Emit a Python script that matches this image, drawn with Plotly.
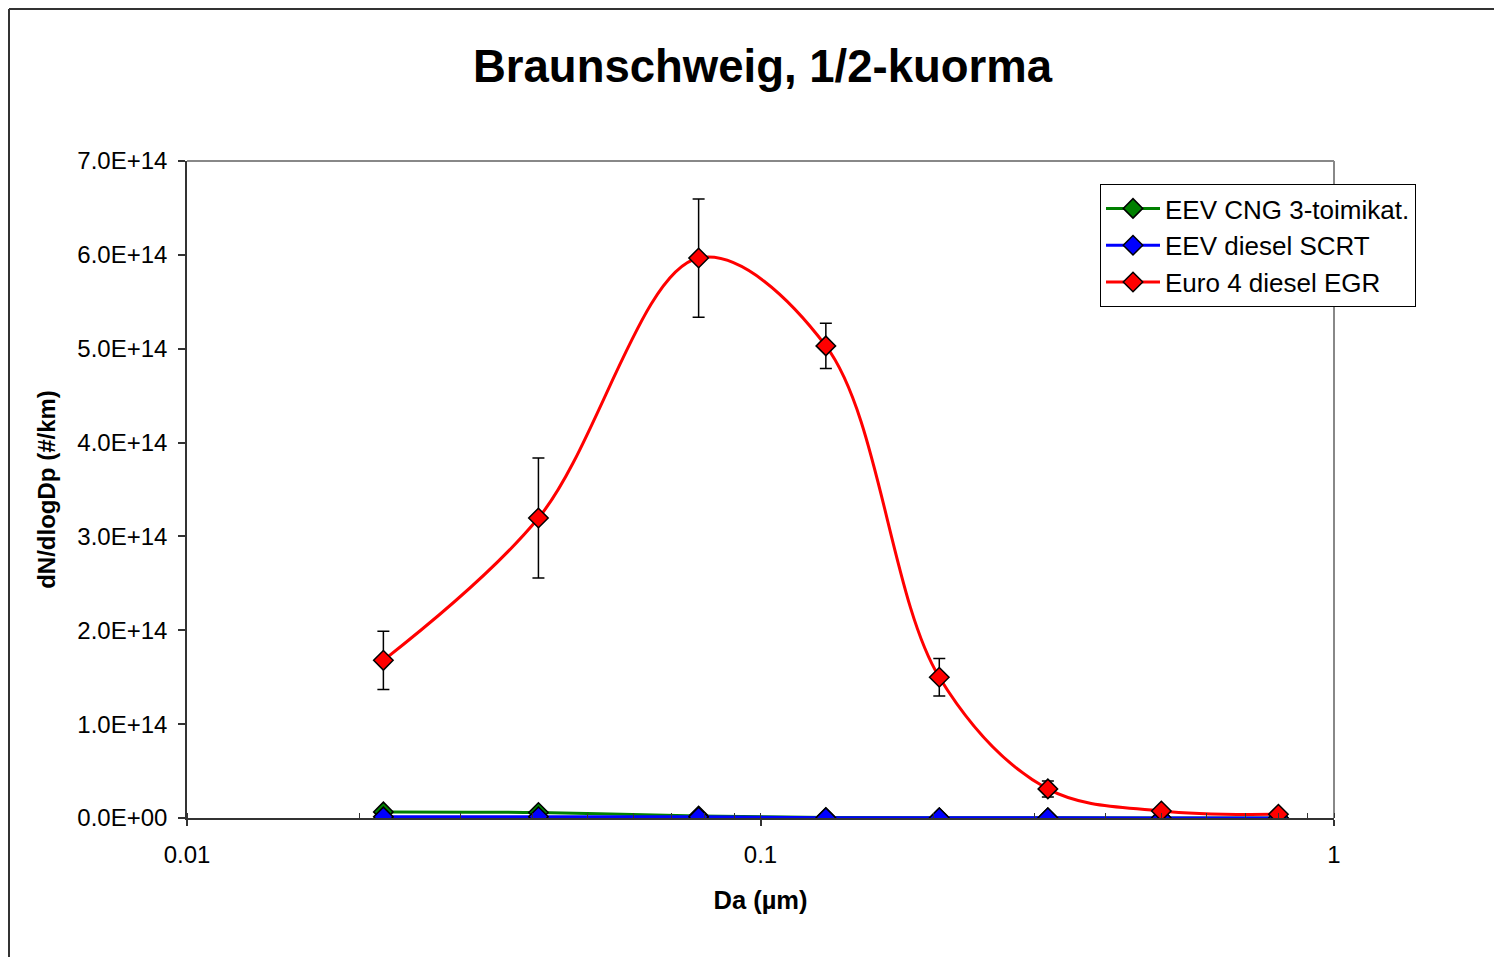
import plotly.graph_objects as go

da = [0.022, 0.041, 0.078, 0.13, 0.205, 0.317, 0.50, 0.80]
cng = [0.065e14, 0.058e14, 0.02e14, 0.005e14, 0.003e14, 0.002e14, 0.001e14, 0.001e14]
scrt = [0.012e14, 0.014e14, 0.012e14, 0.003e14, 0.002e14, 0.002e14, 0.001e14, 0.001e14]
egr = [1.68e14, 3.196e14, 5.966e14, 5.03e14, 1.50e14, 0.31e14, 0.075e14, 0.04e14]
egr_err = [0.31e14, 0.64e14, 0.63e14, 0.24e14, 0.20e14, 0.085e14, 0, 0]

yticks = [0, 1e14, 2e14, 3e14, 4e14, 5e14, 6e14, 7e14]
ytext = ["0.0E+00", "1.0E+14", "2.0E+14", "3.0E+14", "4.0E+14", "5.0E+14", "6.0E+14", "7.0E+14"]
xticks = [0.01, 0.1, 1]
xtext = ["0.01", "0.1", "1"]

FONT = "Liberation Sans, Arial, sans-serif"

W, H = 1502, 957
L, R, T, B = 179, 176, 153, 147
PW = W - L - R
PH = H - T - B

def marker(color):
    return dict(symbol="diamond", size=15, color=color, line=dict(color="black", width=1.5))

fig = go.Figure()
fig.add_trace(go.Scatter(x=da, y=cng, mode="lines+markers", name="EEV CNG 3-toimikat.",
                         line=dict(color="#008000", width=3, shape="spline"), marker=marker("#008000")))
fig.add_trace(go.Scatter(x=da, y=scrt, mode="lines+markers", name="EEV diesel SCRT",
                         line=dict(color="#0000FF", width=3, shape="spline"), marker=marker("#0000FF")))
fig.add_trace(go.Scatter(x=da, y=egr, mode="lines+markers", name="Euro 4 diesel EGR",
                         line=dict(color="#FF0000", width=3, shape="spline"), marker=marker("#FF0000"),
                         error_y=dict(type="data", array=egr_err, visible=True, color="black",
                                      thickness=1.5, width=6)))

fig.update_layout(
    width=W, height=H,
    margin=dict(l=L, r=R, t=T, b=B, autoexpand=False),
    paper_bgcolor="white", plot_bgcolor="white",
    font=dict(family=FONT, color="black"),
    title=dict(text="<b>Braunschweig, 1/2-kuorma</b>", x=(L + PW / 2 + 2) / W, xanchor="center",
               y=1 - 58 / H, yanchor="middle", font=dict(size=45.5, family=FONT)),
    showlegend=True,
    legend=dict(x=(1092 - L) / PW, y=(H - B - 176) / PH, xanchor="left", yanchor="top",
                bgcolor="white", bordercolor="black", borderwidth=1, itemwidth=54,
                font=dict(size=26, family=FONT), tracegroupgap=0),
)

fig.update_xaxes(type="log", range=[-2, 0], tickvals=xticks, ticktext=xtext,
                 showgrid=False, zeroline=False, showline=True, linecolor="#333", linewidth=1.5,
                 ticks="outside", ticklen=6, tickcolor="#333", tickwidth=1.5,
                 tickfont=dict(size=24, family=FONT), ticklabelstandoff=8,
                 minor=dict(ticks="inside", ticklen=5, tickcolor="#333", tickwidth=1, dtick="D1", showgrid=False),
                 title=dict(text="<b>Da (µm)</b>", font=dict(size=25.5, family=FONT), standoff=25))
fig.update_yaxes(range=[0, 7e14], tickvals=yticks, ticktext=ytext,
                 showgrid=False, zeroline=False, showline=True, linecolor="#333", linewidth=1.5,
                 ticks="outside", ticklen=7, tickcolor="#333", tickwidth=1.5,
                 tickfont=dict(size=24, family=FONT), ticklabelstandoff=6,
                 title=dict(text="<b>dN/dlogDp (#/km)</b>", font=dict(size=24, family=FONT), standoff=15))

# plot area gray border (top, right)
fig.add_shape(type="line", xref="paper", yref="paper", x0=0, x1=1, y0=1, y1=1,
              line=dict(color="#888888", width=2), layer="below")
fig.add_shape(type="line", xref="paper", yref="paper", x0=1, x1=1, y0=0, y1=1,
              line=dict(color="#888888", width=2), layer="below")
# outer chart border (left, top)
bx = (1 - L) / PW
by = (H - B - 1) / PH
fig.add_shape(type="line", xref="paper", yref="paper", x0=bx, x1=bx,
              y0=-0.4, y1=by, line=dict(color="#333333", width=2))
fig.add_shape(type="line", xref="paper", yref="paper", x0=bx, x1=1.4,
              y0=by, y1=by, line=dict(color="#333333", width=2))

fig.write_html("out.html")
